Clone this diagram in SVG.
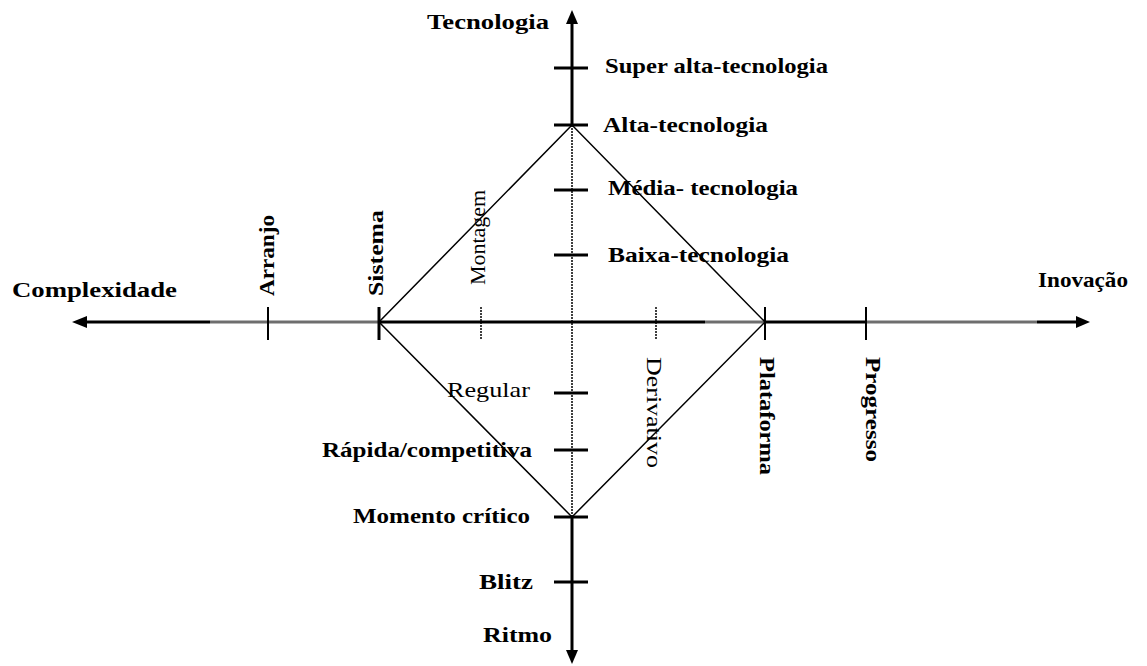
<svg xmlns="http://www.w3.org/2000/svg" width="1147" height="666" viewBox="0 0 1147 666">
<style>
text{font-family:"Liberation Serif","DejaVu Serif","Times New Roman",serif;font-size:22px;fill:#000}
.b{font-weight:700}
.n{font-weight:400}
.axis{stroke:#000;stroke-width:3;fill:none}
.gray{stroke:#6e6e6e;stroke-width:3;fill:none}
.tick{stroke:#000;stroke-width:3}
.vt{stroke:#000;stroke-width:2}
.dot{stroke:#000;stroke-width:1.5;stroke-dasharray:2 1}
.dia{stroke:#000;stroke-width:1.5;fill:none}
</style>
<rect width="1147" height="666" fill="#fff"/>
<g id="connectors">
  <line class="axis" x1="572" y1="20" x2="572" y2="125"/>
  <line class="dot" x1="572" y1="125" x2="572" y2="517"/>
  <line class="axis" x1="572" y1="517" x2="572" y2="652"/>
  <polygon points="572,10 566,24 578,24" fill="#000"/>
  <polygon points="572,664 566,650 578,650" fill="#000"/>
  <line class="axis" x1="84" y1="322" x2="210" y2="322"/>
  <line class="gray" x1="210" y1="322" x2="378" y2="322"/>
  <line class="axis" x1="378" y1="322" x2="705" y2="322"/>
  <line class="gray" x1="705" y1="322" x2="765" y2="322"/>
  <line class="axis" x1="765" y1="322" x2="865" y2="322"/>
  <line class="gray" x1="865" y1="322" x2="1037" y2="322"/>
  <line class="axis" x1="1037" y1="322" x2="1078" y2="322"/>
  <polygon points="72,322 87,316 87,328" fill="#000"/>
  <polygon points="1090,322 1076,316 1076,328" fill="#000"/>
  <polygon class="dia" points="572,125 379,322 572,517 765,322"/>
</g>
<g id="ticks">
  <line class="tick" x1="554" y1="68" x2="588" y2="68"/>
  <line class="tick" x1="554" y1="125" x2="588" y2="125"/>
  <line class="tick" x1="554" y1="190" x2="588" y2="190"/>
  <line class="tick" x1="554" y1="255" x2="588" y2="255"/>
  <line class="tick" x1="554" y1="393" x2="588" y2="393"/>
  <line class="tick" x1="554" y1="450" x2="588" y2="450"/>
  <line class="tick" x1="554" y1="517" x2="588" y2="517"/>
  <line class="tick" x1="554" y1="582" x2="588" y2="582"/>
  <line class="vt" x1="268" y1="307" x2="268" y2="340"/>
  <line class="tick" x1="379" y1="307" x2="379" y2="340"/>
  <line class="dot" x1="481" y1="307" x2="481" y2="340"/>
  <line class="dot" x1="656" y1="307" x2="656" y2="340"/>
  <line class="vt" x1="765" y1="307" x2="765" y2="340"/>
  <line class="vt" x1="866" y1="307" x2="866" y2="340"/>
</g>
<g id="axis-titles">
  <text id="t-tecnologia" class="b" x="427" y="29" textLength="122" lengthAdjust="spacingAndGlyphs">Tecnologia</text>
  <text id="t-ritmo" class="b" x="483" y="642" textLength="69" lengthAdjust="spacingAndGlyphs">Ritmo</text>
  <text id="t-complexidade" class="b" x="12" y="297" textLength="165" lengthAdjust="spacingAndGlyphs">Complexidade</text>
  <text id="t-inovacao" class="b" x="1038" y="287" textLength="90" lengthAdjust="spacingAndGlyphs">Inovação</text>
</g>
<g id="tech-labels">
  <text id="n-super" class="b" x="605" y="73" textLength="223" lengthAdjust="spacingAndGlyphs">Super alta-tecnologia</text>
  <text id="n-alta" class="b" x="603" y="132" textLength="165" lengthAdjust="spacingAndGlyphs">Alta-tecnologia</text>
  <text id="n-media" class="b" x="608" y="195" textLength="190" lengthAdjust="spacingAndGlyphs">Média- tecnologia</text>
  <text id="n-baixa" class="b" x="608" y="262" textLength="181" lengthAdjust="spacingAndGlyphs">Baixa-tecnologia</text>
</g>
<g id="ritmo-labels">
  <text id="n-regular" class="n" x="447" y="397" textLength="83" lengthAdjust="spacingAndGlyphs">Regular</text>
  <text id="n-rapida" class="b" x="322" y="457" textLength="210" lengthAdjust="spacingAndGlyphs">Rápida/competitiva</text>
  <text id="n-momento" class="b" x="353" y="523" textLength="177" lengthAdjust="spacingAndGlyphs">Momento crítico</text>
  <text id="n-blitz" class="b" x="479" y="589" textLength="54" lengthAdjust="spacingAndGlyphs">Blitz</text>
</g>
<g id="complexidade-labels">
  <text id="n-arranjo" class="b" transform="translate(274,296) rotate(-90)" x="0" y="0" textLength="81" lengthAdjust="spacingAndGlyphs">Arranjo</text>
  <text id="n-sistema" class="b" transform="translate(383,296) rotate(-90)" x="0" y="0" textLength="86" lengthAdjust="spacingAndGlyphs">Sistema</text>
  <text id="n-montagem" class="n" transform="translate(485,285) rotate(-90)" x="0" y="0" textLength="95" lengthAdjust="spacingAndGlyphs">Montagem</text>
</g>
<g id="inovacao-labels">
  <text id="n-derivativo" class="n" transform="translate(647,357) rotate(90)" x="0" y="0" textLength="111" lengthAdjust="spacingAndGlyphs">Derivativo</text>
  <text id="n-plataforma" class="b" transform="translate(760,357) rotate(90)" x="0" y="0" textLength="118" lengthAdjust="spacingAndGlyphs">Plataforma</text>
  <text id="n-progresso" class="b" transform="translate(866,357) rotate(90)" x="0" y="0" textLength="105" lengthAdjust="spacingAndGlyphs">Progresso</text>
</g>
</svg>
